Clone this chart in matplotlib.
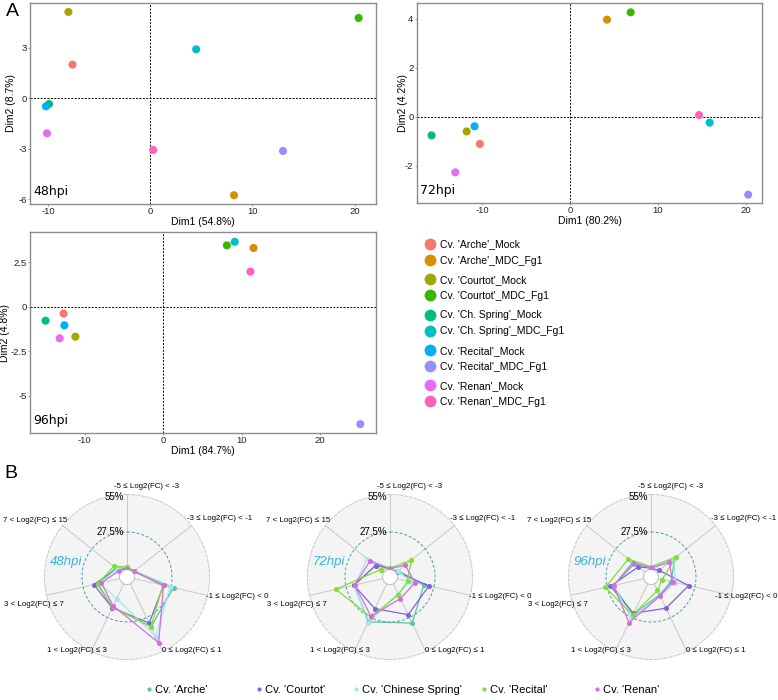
import matplotlib
matplotlib.use('Agg')
import matplotlib.pyplot as plt
import numpy as np
from matplotlib.lines import Line2D
from matplotlib.ticker import FuncFormatter

plt.rcParams['font.family'] = ['Liberation Sans', 'DejaVu Sans']
plt.rcParams['axes.unicode_minus'] = False

# ---------------- PCA data (A) ----------------
groups = ["Cv. 'Arche'_Mock", "Cv. 'Arche'_MDC_Fg1",
          "Cv. 'Courtot'_Mock", "Cv. 'Courtot'_MDC_Fg1",
          "Cv. 'Ch. Spring'_Mock", "Cv. 'Ch. Spring'_MDC_Fg1",
          "Cv. 'Recital'_Mock", "Cv. 'Recital'_MDC_Fg1",
          "Cv. 'Renan'_Mock", "Cv. 'Renan'_MDC_Fg1"]
pca_colors = ['#F8766D', '#D89000', '#A3A500', '#39B600', '#00BF7D',
              '#00BFC4', '#00B0F6', '#9590FF', '#E76BF3', '#FF62BC']

dim1_48 = [-7.6, 8.2, -8.0, 20.4, -9.9, 4.5, -10.2, 13.0, -10.1, 0.3]
dim2_48 = [2.0, -5.76, 5.13, 4.77, -0.34, 2.91, -0.48, -3.13, -2.08, -3.07]
dim1_72 = [-10.3, 4.2, -11.8, 6.9, -15.8, 15.9, -10.9, 20.3, -13.1, 14.7]
dim2_72 = [-1.10, 3.97, -0.59, 4.27, -0.75, -0.23, -0.38, -3.17, -2.26, 0.08]
dim1_96 = [-12.7, 11.5, -11.2, 8.1, -15.0, 9.1, -12.6, 25.1, -13.2, 11.1]
dim2_96 = [-0.39, 3.30, -1.69, 3.45, -0.79, 3.65, -1.05, -6.61, -1.78, 1.97]

pca_panels = [
    ('48hpi', dim1_48, dim2_48, 'Dim1 (54.8%)', 'Dim2 (8.7%)',
     [-10, 0, 10, 20], [-6, -3, 0, 3], (-11.76, 22.1), (-6.28, 5.66),
     [30, 3, 376, 204], 16),
    ('72hpi', dim1_72, dim2_72, 'Dim1 (80.2%)', 'Dim2 (4.2%)',
     [-10, 0, 10, 20], [-2, 0, 2, 4], (-17.46, 21.87), (-3.51, 4.65),
     [417, 3, 762, 203], 408),
    ('96hpi', dim1_96, dim2_96, 'Dim1 (84.7%)', 'Dim2 (4.8%)',
     [-10, 0, 10, 20], [-5, -2.5, 0, 2.5], (-16.98, 27.1), (-7.11, 4.2),
     [30, 232, 376, 433], 10),
]

# ---------------- Radar data (B) ----------------
fc_classes = ['-5 ≤ Log2(FC) < -3', '-3 ≤ Log2(FC) < -1', '-1 ≤ Log2(FC) < 0',
              '0 ≤ Log2(FC) ≤ 1', '1 < Log2(FC) ≤ 3', '3 < Log2(FC) ≤ 7',
              '7 < Log2(FC) ≤ 15']
cultivars = ["Cv. 'Arche'", "Cv. 'Courtot'", "Cv. 'Chinese Spring'",
             "Cv. 'Recital'", "Cv. 'Renan'"]
cv_colors = ['#5DC2A2', '#7E66D6', '#9FE8F6', '#7FE12E', '#D66BE0']

radar_48 = [
    [1.5, 1.5, 29.5, 35.0, 19.0, 17.0, 5.0],
    [0.5, 1.0, 22.0, 32.0, 19.5, 19.5, 4.0],
    [2.0, 1.5, 27.0, 43.0, 12.0, 15.0, 4.0],
    [2.0, 1.0, 21.5, 35.0, 19.0, 16.3, 7.0],
    [0.5, 1.3, 22.0, 48.0, 18.0, 13.8, 2.0],
]
radar_72 = [
    [1.0, 2.0, 20.0, 32.0, 31.0, 21.5, 8.0],
    [1.0, 0.6, 23.8, 25.2, 20.2, 21.6, 8.0],
    [1.0, 2.0, 10.0, 8.0, 32.0, 21.0, 16.0],
    [1.0, 14.5, 7.7, 8.8, 27.0, 35.2, 3.3],
    [0.5, 8.6, 13.3, 12.0, 26.6, 21.0, 13.3],
]
radar_96 = [
    [1.5, 17.0, 9.5, 9.0, 25.0, 23.0, 10.0],
    [1.0, 2.3, 22.8, 19.9, 24.0, 25.0, 6.4],
    [1.5, 16.0, 12.8, 10.0, 28.0, 22.6, 12.0],
    [2.0, 18.3, 2.8, 5.4, 25.5, 28.8, 15.8],
    [1.0, 11.7, 10.8, 9.8, 31.7, 22.6, 11.4],
]
radar_panels = [('48hpi', radar_48, 127), ('72hpi', radar_72, 390), ('96hpi', radar_96, 651)]

W, H = 778, 700
fig = plt.figure(figsize=(W / 100, H / 100), dpi=100)


def box(l, t, r, b):
    return [l / W, 1 - b / H, (r - l) / W, (b - t) / H]


fmt = FuncFormatter(lambda v, _: f'{v:g}')

for name, d1, d2, xl, yl, xt, yt, xlim, ylim, pos, ylab_x in pca_panels:
    ax = fig.add_axes(box(*pos))
    ax.axhline(0, color='black', lw=0.7, ls=(0, (2, 1.5)), zorder=1)
    ax.axvline(0, color='black', lw=0.7, ls=(0, (2, 1.5)), zorder=1)
    for x, y, c in zip(d1, d2, pca_colors):
        ax.scatter(x, y, s=34, color=c, edgecolor='none', zorder=3)
    ax.set_xlim(*xlim)
    ax.set_ylim(*ylim)
    ax.set_xticks(xt)
    ax.set_yticks(yt)
    ax.xaxis.set_major_formatter(fmt)
    ax.yaxis.set_major_formatter(fmt)
    ax.tick_params(labelsize=6.8, length=1.5, width=0.6, color='#888888', pad=1,
                   labelcolor='#222222')
    for sp in ax.spines.values():
        sp.set_color('#8c8c8c')
        sp.set_linewidth(1.0)
    ax.set_xlabel(xl, fontsize=7.5, labelpad=0.5)
    ax.set_ylabel(yl, fontsize=7.5)
    ax.yaxis.set_label_coords((ylab_x - pos[0]) / (pos[2] - pos[0]), 0.5)
    ax.text(0.01, 0.03, name, transform=ax.transAxes, fontsize=9,
            family='DejaVu Sans', ha='left', va='bottom')

# PCA legend, in pairs
for g in range(5):
    handles = [Line2D([], [], ls='none', marker='o', ms=8.5, color=pca_colors[2 * g + k],
                      mec='none') for k in range(2)]
    top = 239.5 + g * 35.4
    fig.legend(handles, groups[2 * g:2 * g + 2], loc='upper left',
               bbox_to_anchor=(424 / W, 1 - top / H), frameon=False,
               fontsize=7.5, labelspacing=0.58, handletextpad=0.35,
               handlelength=1.2, borderpad=0, borderaxespad=0)

fig.text(6 / W, 1 - 12 / H, 'A', fontsize=14, ha='left', va='center')
fig.text(4 / W, 1 - 473 / H, 'B', fontsize=14, ha='left', va='center')

# ---------------- radar charts ----------------
R = 82.5
n = len(fc_classes)
theta = np.linspace(0, 2 * np.pi, n, endpoint=False)
theta_c = np.append(theta, theta[0])
circle_t = np.linspace(0, 2 * np.pi, 300)
cy = 577

label_off = [(20, -90), (93, -58), (110, 20), (65, 73), (-50, 73), (-93, 27), (-92, -56)]
radar_labels = []

for name, data, cx in radar_panels:
    ax = fig.add_axes(box(cx - R, cy - R, cx + R, cy + R), projection='polar')
    ax.set_theta_zero_location('N')
    ax.set_theta_direction(-1)
    ax.set_ylim(0, 55)
    ax.set_rorigin(-5.5)
    ax.set_facecolor('#F4F4F4')
    ax.grid(False)
    ax.set_xticks([])
    ax.set_yticks([])
    ax.spines['polar'].set_color('#C8C8C8')
    ax.spines['polar'].set_linestyle((0, (3, 2)))
    ax.spines['polar'].set_linewidth(0.7)
    ax.spines['inner'].set_color('#BDBDBD')
    ax.spines['inner'].set_linewidth(0.7)
    for t in theta:
        ax.plot([t, t], [0, 55], color='#C8C8C8', lw=0.7, zorder=1)
    ax.plot(circle_t, np.full_like(circle_t, 27.5), color='#4B9CA9', lw=0.7,
            ls=(0, (3, 2)), zorder=1)
    for vals, c in zip(data, cv_colors):
        v = np.append(vals, vals[0])
        ax.plot(theta_c, v, color=c, lw=0.9, marker='o', ms=2.6, zorder=3)
    for lab, (dx, dy) in zip(fc_classes, label_off):
        t = fig.text((cx + dx) / W, 1 - (cy + dy) / H, lab, fontsize=5.7,
                     ha='center', va='center')
        radar_labels.append(t)
    ax.text(0.5 - 3 / (2 * R), 0.5 + 80 / (2 * R), '55%', transform=ax.transAxes,
            fontsize=7, ha='right', va='center')
    ax.text(0.5 - 3 / (2 * R), 0.5 + 45 / (2 * R), '27.5%', transform=ax.transAxes,
            fontsize=7, ha='right', va='center')
    ax.text(0.5 - 61 / (2 * R), 0.5 + 15 / (2 * R), name, transform=ax.transAxes,
            fontsize=9.5, style='italic', color='#38B6DA', ha='center', va='center')

# keep the outer radar labels inside the figure
renderer = fig.canvas.get_renderer()
for t in radar_labels:
    bb = t.get_window_extent(renderer)
    if bb.x1 > W - 1:
        x, y = t.get_position()
        t.set_position((x - (bb.x1 - (W - 1)) / W, y))

# bottom legend
legend_x = [143, 253, 350, 478, 591]
for lab, c, x in zip(cultivars, cv_colors, legend_x):
    h = Line2D([], [], ls='none', marker='o', ms=3, color=c, mec='none')
    fig.legend([h], [lab], loc='center left', bbox_to_anchor=(x / W, 1 - 690 / H),
               frameon=False, fontsize=8, handletextpad=0.1, handlelength=1.0,
               borderpad=0, borderaxespad=0)

fig.savefig('out.png', dpi=100)
